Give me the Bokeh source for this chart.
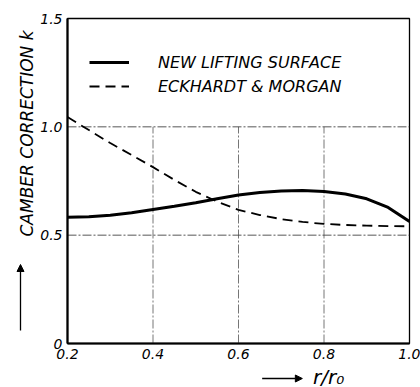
from bokeh.plotting import figure
from bokeh.layouts import row, column
from bokeh.models import (Range1d, FixedTicker, Label, Arrow, NormalHead, Legend, LegendItem)
from bokeh.embed import file_html
from bokeh.resources import INLINE

# ---- data ----
r_ratio = [0.2, 0.25, 0.3, 0.35, 0.4, 0.45, 0.5, 0.55, 0.6, 0.65, 0.7, 0.75, 0.8, 0.85, 0.9, 0.95, 1.0]
new_lifting_surface = [0.583, 0.585, 0.592, 0.603, 0.618, 0.633, 0.650, 0.668, 0.685, 0.697,
                       0.704, 0.706, 0.702, 0.690, 0.668, 0.628, 0.563]
eckhardt_morgan = [1.045, 0.985, 0.925, 0.870, 0.814, 0.755, 0.700, 0.655, 0.617, 0.593,
                   0.574, 0.561, 0.552, 0.547, 0.544, 0.542, 0.541]
x_ticks = [0.2, 0.4, 0.6, 0.8, 1.0]
x_tick_labels = ["0.2", "0.4", "0.6", "0.8", "1.0"]
y_ticks = [0, 0.5, 1.0, 1.5]
y_tick_labels = ["0", "0.5", "1.0", "1.5"]
x_grid = [0.4, 0.6, 0.8]
y_grid = [0.5, 1.0]
y_title = "CAMBER CORRECTION k"
x_title = "r/r₀"

FONT = "DejaVu Sans"
LW, TOP_H, BOT_H = 37, 365, 22


def blank(w, h):
    f = figure(width=w, height=h, output_backend="svg", toolbar_location=None,
               x_range=Range1d(0, w), y_range=Range1d(h, 0),
               min_border=0, min_border_left=0, min_border_right=0,
               min_border_top=0, min_border_bottom=0)
    f.axis.visible = False
    f.grid.visible = False
    f.outline_line_color = None
    f.background_fill_color = "white"
    f.border_fill_color = "white"
    return f


# ---- main plot ----
p = figure(width=420 - LW, height=TOP_H, output_backend="svg", toolbar_location=None,
           x_range=Range1d(0.2, 1.0), y_range=Range1d(0, 1.5),
           min_border_left=66 - LW, min_border_right=11, min_border_top=18,
           min_border_bottom=TOP_H - 343)
p.background_fill_color = "white"
p.border_fill_color = "white"
p.outline_line_color = "black"
p.outline_line_width = 1.3
p.xgrid.visible = False
p.ygrid.visible = False

for ax, ticks, labels in ((p.xaxis[0], x_ticks, x_tick_labels), (p.yaxis[0], y_ticks, y_tick_labels)):
    ax.ticker = FixedTicker(ticks=ticks)
    ax.major_label_overrides = {t: l for t, l in zip(ticks, labels)}
    ax.major_tick_line_color = None
    ax.minor_tick_line_color = None
    ax.major_tick_out = 0
    ax.major_tick_in = 0
    ax.minor_tick_out = 0
    ax.minor_tick_in = 0
    ax.axis_line_color = "black"
    ax.axis_line_width = 2.2
    ax.major_label_text_font = FONT
    ax.major_label_text_font_style = "italic"
    ax.major_label_text_font_size = "14px"
    ax.major_label_text_color = "black"
    ax.major_label_standoff = 5

# grid lines (dash-dot); vertical ones only below 1.0 (legend area above)
p.segment(x0=x_grid, y0=[0] * len(x_grid), x1=x_grid, y1=[1.0] * len(x_grid),
          line_color="#666666", line_width=0.9, line_dash="9 2 2 2")
p.segment(x0=[0.2] * len(y_grid), y0=y_grid, x1=[1.0] * len(y_grid), y1=y_grid,
          line_color="#444444", line_width=0.9, line_dash="9 2 2 2")

r1 = p.line(r_ratio, new_lifting_surface, line_color="black", line_width=3)
r2 = p.line(r_ratio, eckhardt_morgan, line_color="black", line_width=1.8, line_dash="10 6")

legend = Legend(items=[LegendItem(label="NEW LIFTING SURFACE", renderers=[r1]),
                       LegendItem(label="ECKHARDT & MORGAN", renderers=[r2])],
                location=(22, 247), orientation="vertical",
                border_line_color=None, background_fill_alpha=0,
                padding=0, margin=0, spacing=4,
                glyph_width=40, glyph_height=20, label_height=20, label_standoff=29,
                label_text_font=FONT, label_text_font_style="italic",
                label_text_font_size="16px", label_text_color="black")
p.add_layout(legend, "center")

# ---- left strip: y title and arrow ----
lf = blank(LW, 387)
lf.add_layout(Label(x=26, y=133, text=y_title, angle=90, angle_units="deg",
                    text_align="center", text_baseline="middle", text_font=FONT,
                    text_font_style="italic", text_font_size="17px", text_color="black"))
lf.add_layout(Arrow(x_start=20, y_start=330, x_end=20, y_end=264,
                    line_color="black", line_width=1.3,
                    end=NormalHead(size=7, fill_color="black", line_color="black")))

# ---- bottom strip: x title and arrow ----
bf = blank(420 - LW, BOT_H)
bf.add_layout(Label(x=312 - LW, y=11, text=x_title, text_align="left", text_baseline="middle",
                    text_font=FONT, text_font_style="italic", text_font_size="20px",
                    text_color="black"))
bf.add_layout(Arrow(x_start=255 - LW, y_start=13, x_end=300 - LW, y_end=13,
                    line_color="black", line_width=1.3,
                    end=NormalHead(size=7, fill_color="black", line_color="black")))

layout = row(lf, column(p, bf, spacing=0), spacing=0)
open("out.html", "w").write(file_html(layout, INLINE))
